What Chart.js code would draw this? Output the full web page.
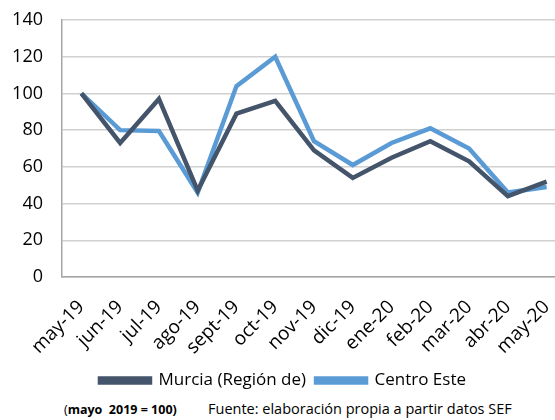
<!DOCTYPE html>
<html>
<head>
<meta charset="utf-8">
<script src="https://cdn.jsdelivr.net/npm/chart.js@4/dist/chart.umd.min.js"></script>
<style>
    html, body { margin: 0; padding: 0; background: #fff; overflow: hidden; }
    .wrap { position: relative; width: 555px; height: 420px; overflow: hidden; }
    .box { position: absolute; left: 0; top: 0; width: 566px; height: 399px; }
    .note { position: absolute; top: 401px; font-family: 'Open Sans', 'Noto Sans', sans-serif; color: #000; white-space: pre; }
</style>
</head>
<body>
<div class="wrap">
    <div class="box"><canvas id="chart"></canvas></div>
    <div class="note" style="left:64px; font-size:12.5px">(<b>mayo  2019 = 100)</b></div>
    <div class="note" style="left:208px; font-size:14.5px; top:399px">Fuente: elaboración propia a partir datos SEF</div>
</div>
<script>
    const months = ['may-19', 'jun-19', 'jul-19', 'ago-19', 'sept-19', 'oct-19', 'nov-19', 'dic-19', 'ene-20', 'feb-20', 'mar-20', 'abr-20', 'may-20'];
    const murcia = [100, 73, 97, 47, 89, 96, 69, 54, 65, 74, 63, 44, 52];
    const centroEste = [100, 80, 79.5, 46, 104, 120, 74, 61, 73, 81, 70, 46, 49];
    const yTicks = [0, 20, 40, 60, 80, 100, 120, 140];

    const font = "'Open Sans', 'Noto Sans', sans-serif";

    new Chart(document.getElementById('chart'), {
        type: 'line',
        data: {
            labels: months,
            datasets: [
                { label: 'Murcia (Región de)', data: murcia, borderColor: '#44546A', backgroundColor: '#44546A', borderWidth: 4.5, pointRadius: 0, tension: 0 },
                { label: 'Centro Este', data: centroEste, borderColor: '#5B9BD5', backgroundColor: '#5B9BD5', borderWidth: 4.5, pointRadius: 0, tension: 0 },
            ],
        },
        options: {
            responsive: true,
            maintainAspectRatio: false,
            animation: false,
            layout: { padding: { top: 20, left: 0, right: 0, bottom: 0 } },
            scales: {
                x: {
                    offset: true,
                    grid: { display: false, drawTicks: false },
                    border: { color: '#a6a6a6', width: 1.5 },
                    ticks: { color: '#000', font: { family: font, size: 19 }, maxRotation: 45, minRotation: 45, padding: 19, autoSkip: false },
                    afterFit: (scale) => {
                        scale.height = 85;
                        scale.paddingLeft = 0;
                        scale.paddingRight = 0;
                    },
                },
                y: {
                    min: 0,
                    max: 140,
                    afterBuildTicks: (axis) => { axis.ticks = yTicks.map((v) => ({ value: v })); },
                    grid: { color: '#d0d0d0', lineWidth: 1.5, drawTicks: false },
                    border: { color: '#a6a6a6', width: 1.5 },
                    ticks: { color: '#000', font: { family: font, size: 18 }, padding: 19 },
                    afterFit: (scale) => {
                        scale.width = 62;
                        scale.paddingTop = 0;
                        scale.paddingBottom = 0;
                    },
                },
            },
            plugins: {
                legend: {
                    position: 'bottom',
                    labels: { color: '#000', font: { family: font, size: 17 }, boxWidth: 50, boxHeight: 4, padding: 10 },
                },
                tooltip: { enabled: false },
            },
        },
    });
</script>
</body>
</html>
